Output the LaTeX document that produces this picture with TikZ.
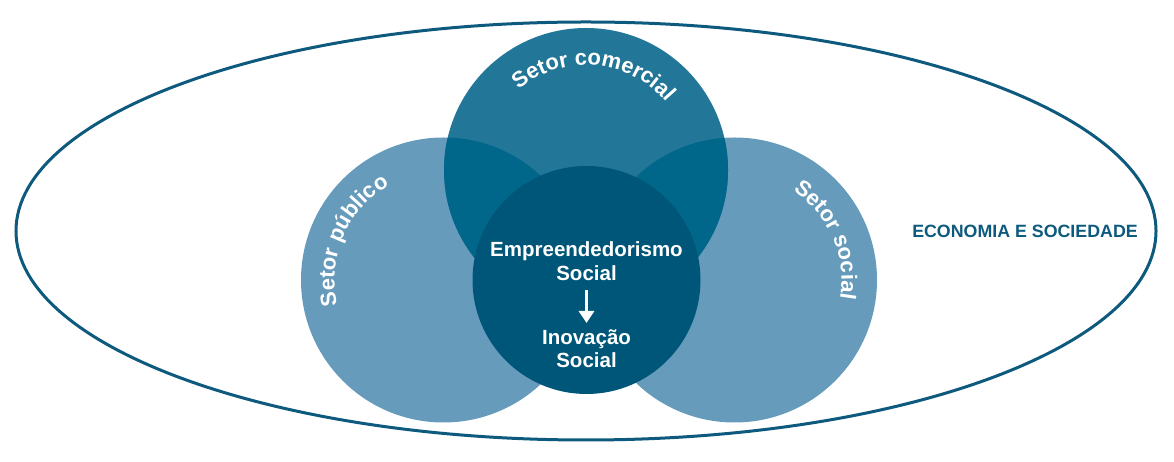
\documentclass[tikz,border=0pt]{standalone}
\usepackage{fontspec}
\setmainfont{Liberation Sans}
\usetikzlibrary{decorations.text,arrows.meta,calc}
\definecolor{lightc}{HTML}{669BBC}
\definecolor{topc}{HTML}{227698}
\definecolor{overc}{HTML}{00668A}
\definecolor{centc}{HTML}{005678}
\definecolor{ellc}{HTML}{0E5A7E}
\tikzset{
  lbl/.style={text=white,font=\bfseries\fontsize{20.5}{24}\selectfont,anchor=base,inner sep=0pt},
  arc text/.style={decorate,decoration={text along path,text align=center,text color=white}}
}
\begin{document}
\begin{tikzpicture}[x=1pt,y=1pt]
\useasboundingbox (0,0) rectangle (1174,462);
\coordinate (E) at (586,231);
\coordinate (T) at (586,292);
\coordinate (L) at (443.5,182);
\coordinate (R) at (734.5,182);
\coordinate (C) at (586.5,182);
% outer ellipse
\draw[ellc,line width=3pt] (E) ellipse[x radius=570,y radius=209];
% side circles
\fill[lightc] (L) circle[radius=142.5];
\fill[lightc] (R) circle[radius=142.5];
% top circle
\fill[topc] (T) circle[radius=142];
\begin{scope}
  \clip (T) circle[radius=142];
  \fill[overc] (L) circle[radius=142.5];
  \fill[overc] (R) circle[radius=142.5];
\end{scope}
% centre circle
\fill[centc] (C) circle[radius=114];
% curved labels
\path[arc text,decoration={text={|\bfseries\fontsize{22}{26}\selectfont|Setor comercial}}]
  ($(T)+(160:105)$) arc[start angle=160,end angle=10,radius=105];
\path[arc text,decoration={text={|\bfseries\fontsize{22}{26}\selectfont|Setor público}}]
  ($(L)+(215:109)$) arc[start angle=215,end angle=98,radius=109];
\path[arc text,decoration={text={|\bfseries\fontsize{22}{26}\selectfont|Setor social}}]
  ($(R)+(82:107)$) arc[start angle=82,end angle=-35,radius=107];
% centre text
\node[lbl] (es1) at (586.5,205) {Empreendedorismo};
\node[lbl] (es2) at (586.5,181) {Social};
\node[lbl] (is1) at (586.5,117) {Inovação};
\node[lbl] (is2) at (586.5,94) {Social};
\draw[white,line width=3.5pt,-{Triangle[width=15pt,length=12pt]}] ([yshift=-9pt]es2.base) -- ([yshift=22pt]is1.base);
% outer label
\node[text=ellc,font=\bfseries\fontsize{17.8}{21}\selectfont,anchor=base,inner sep=0pt] (eco) at (1025,224) {ECONOMIA E SOCIEDADE};
\end{tikzpicture}
\end{document}
